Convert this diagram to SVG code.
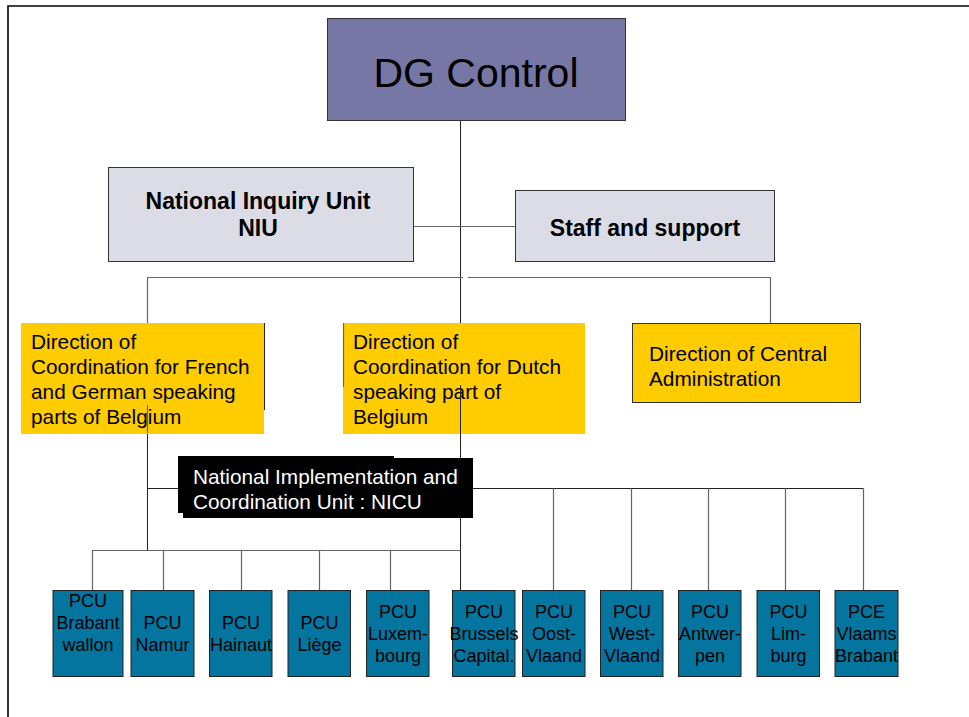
<svg xmlns="http://www.w3.org/2000/svg" width="969" height="717" viewBox="0 0 969 717">
<style>
text{font-family:"Liberation Sans",Arial,sans-serif;fill:#000}
.ln{stroke:#222;stroke-width:1;fill:none}
.lg{stroke:#666;stroke-width:1.2;fill:none}
.dg{fill:#7777A5;stroke:#333;stroke-width:1}
.gr{fill:#DCDCE6;stroke:#333;stroke-width:1}
.yl{fill:#FFCC00}
.pcu{fill:#03759F;stroke:#222;stroke-width:1}
.pt{font-size:18px;text-anchor:middle}
.yt{font-size:20.8px}
.bt{font-size:23px;font-weight:bold;text-anchor:middle}
</style>
<rect x="0" y="0" width="969" height="717" fill="#fff"/>
<path d="M8,717 V6 H969" stroke="#000" stroke-width="1.6" fill="none"/>
<g id="connectors">
<path class="ln" d="M460.5,120 V590"/>
<path class="lg" d="M413,226.5 H515"/>
<path class="lg" d="M147.5,323 V277.5 H463 M468,277.5 H770.5 V323"/>
<path class="ln" d="M147.5,433 V551"/>
<path class="ln" d="M147.5,488.5 H863.5"/>
<path class="lg" d="M92.5,590 V550.5 H460.5"/>
<path class="lg" d="M163.5,550.5 V590 M241.5,550.5 V590 M319.5,550.5 V590 M390.5,550.5 V590"/>
<path class="lg" d="M553.5,488.5 V590 M631.5,488.5 V590 M708.5,488.5 V590 M785.5,488.5 V590 M863.5,488.5 V590"/>
</g>
<g id="dg-control">
<rect class="dg" x="327.5" y="18.5" width="298" height="102"/>
<text x="476" y="87" font-size="41" text-anchor="middle">DG Control</text>
</g>
<g id="niu">
<rect class="gr" x="108.5" y="167.5" width="305" height="94"/>
<text class="bt" x="258" y="209">National Inquiry Unit</text>
<text class="bt" x="258" y="236">NIU</text>
</g>
<g id="staff">
<rect class="gr" x="515.5" y="190.5" width="259" height="71"/>
<text class="bt" x="645" y="236">Staff and support</text>
</g>
<g id="dir-french">
<rect class="yl" x="21" y="323" width="243" height="111"/>
<path class="ln" d="M264.5,323 V410"/>
<text class="yt" x="31" y="349">Direction of</text>
<text class="yt" x="31" y="374">Coordination for French</text>
<text class="yt" x="31" y="399">and German speaking</text>
<text class="yt" x="31" y="424">parts of Belgium</text>
<path class="lg" d="M147.5,405 V433"/>
</g>
<g id="dir-dutch">
<rect class="yl" x="343" y="323" width="242" height="111"/>
<path class="lg" d="M343.5,323 V387"/>
<text class="yt" x="353" y="349">Direction of</text>
<text class="yt" x="353" y="374">Coordination for Dutch</text>
<text class="yt" x="353" y="399">speaking part of</text>
<text class="yt" x="353" y="424">Belgium</text>
<path class="ln" d="M460.5,385 V434"/>
</g>
<g id="dir-central">
<rect class="yl" x="632.5" y="323.5" width="228" height="79" stroke="#333" stroke-width="1"/>
<text class="yt" x="649" y="361">Direction of Central</text>
<text class="yt" x="649" y="386">Administration</text>
</g>
<g id="nicu">
<rect x="178" y="456" width="216" height="57" fill="#000"/>
<rect x="183" y="458" width="290" height="60" fill="#000"/>
<text class="yt" x="193" y="484" style="fill:#fff">National Implementation and</text>
<text class="yt" x="193" y="509" style="fill:#fff">Coordination Unit : NICU</text>
</g>
<g id="pcu-brabant-wallon">
<rect class="pcu" x="53" y="590.5" width="70" height="86"/>
<text class="pt" x="88" y="607">PCU</text><text class="pt" x="88" y="629">Brabant</text><text class="pt" x="88" y="651">wallon</text>
</g>
<g id="pcu-namur">
<rect class="pcu" x="131" y="590.5" width="63" height="86"/>
<text class="pt" x="162.5" y="629">PCU</text><text class="pt" x="162.5" y="651">Namur</text>
</g>
<g id="pcu-hainaut">
<rect class="pcu" x="209.5" y="590.5" width="62.5" height="86"/>
<text class="pt" x="241" y="629">PCU</text><text class="pt" x="241" y="651">Hainaut</text>
</g>
<g id="pcu-liege">
<rect class="pcu" x="288" y="590.5" width="62.5" height="86"/>
<text class="pt" x="319.5" y="629">PCU</text><text class="pt" x="319.5" y="651">Liège</text>
</g>
<g id="pcu-luxembourg">
<rect class="pcu" x="366.5" y="590.5" width="62.5" height="86"/>
<text class="pt" x="398" y="618">PCU</text><text class="pt" x="398" y="640">Luxem-</text><text class="pt" x="398" y="662">bourg</text>
</g>
<g id="pcu-brussels">
<rect class="pcu" x="452.5" y="590.5" width="62.5" height="86"/>
<text class="pt" x="484" y="618">PCU</text><text class="pt" x="484" y="640">Brussels</text><text class="pt" x="484" y="662">Capital.</text>
</g>
<g id="pcu-oost-vlaand">
<rect class="pcu" x="522.5" y="590.5" width="62.5" height="86"/>
<text class="pt" x="554" y="618">PCU</text><text class="pt" x="554" y="640">Oost-</text><text class="pt" x="554" y="662">Vlaand</text>
</g>
<g id="pcu-west-vlaand">
<rect class="pcu" x="600.5" y="590.5" width="62.5" height="86"/>
<text class="pt" x="632" y="618">PCU</text><text class="pt" x="632" y="640">West-</text><text class="pt" x="632" y="662">Vlaand</text>
</g>
<g id="pcu-antwerpen">
<rect class="pcu" x="678.5" y="590.5" width="62.5" height="86"/>
<text class="pt" x="710" y="618">PCU</text><text class="pt" x="710" y="640">Antwer-</text><text class="pt" x="710" y="662">pen</text>
</g>
<g id="pcu-limburg">
<rect class="pcu" x="757" y="590.5" width="62.5" height="86"/>
<text class="pt" x="788.5" y="618">PCU</text><text class="pt" x="788.5" y="640">Lim-</text><text class="pt" x="788.5" y="662">burg</text>
</g>
<g id="pce-vlaams-brabant">
<rect class="pcu" x="835" y="590.5" width="63" height="86"/>
<text class="pt" x="866.5" y="618">PCE</text><text class="pt" x="866.5" y="640">Vlaams</text><text class="pt" x="866.5" y="662">Brabant</text>
</g>
</svg>
